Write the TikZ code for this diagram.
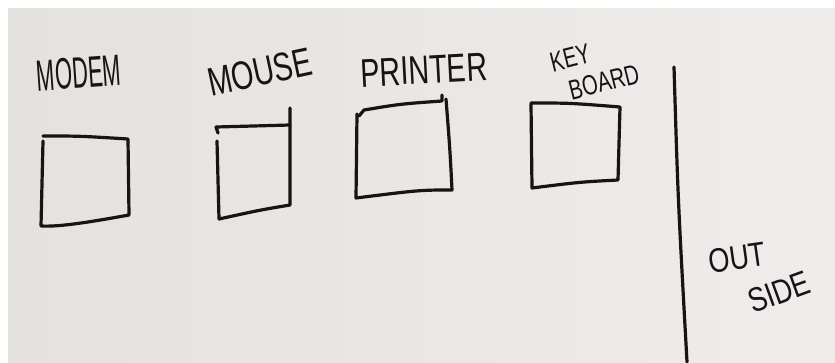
\documentclass[tikz,border=0pt]{standalone}
\usepackage{fontspec}
\setmainfont{Liberation Sans}
\definecolor{paper}{RGB}{228,226,222}
\definecolor{paperlight}{RGB}{238,237,235}
\definecolor{ink}{RGB}{22,20,20}
\tikzset{
  ink/.style={draw=ink, line width=3.2pt, line cap=round, line join=round},
  hand/.style={text=ink, inner sep=0pt, font=\fontsize{40}{42}\selectfont},
}
\begin{document}
\begin{tikzpicture}[x=1pt,y=-1pt]
\useasboundingbox (0,0) rectangle (835,362);
% paper
\fill[white] (0,0) rectangle (835,362);
\shade[left color=paper, right color=paperlight] (8,8) rectangle (835,362);
% labels
\node[hand, rotate=4, font=\fontsize{44}{46}\selectfont] (modem) at (79,73) {\scalebox{0.5}[1]{MODEM}};
\node[hand, rotate=12] (mouse) at (260,72) {\scalebox{0.72}[1]{MOUSE}};
\node[hand, rotate=3] (printer) at (424,70) {\scalebox{0.72}[1]{PRINTER}};
\node[hand, rotate=14, font=\fontsize{28}{30}\selectfont] (key) at (570,58) {\scalebox{0.72}[1]{KEY}};
\node[hand, rotate=14, font=\fontsize{28}{30}\selectfont] (board) at (604,82) {\scalebox{0.72}[1]{BOARD}};
\node[hand, rotate=8, font=\fontsize{34}{36}\selectfont] (out) at (737,258) {\scalebox{0.8}[1]{OUT}};
\node[hand, rotate=20, font=\fontsize{34}{36}\selectfont] (side) at (779,292) {\scalebox{0.8}[1]{SIDE}};
% box 1 (modem)
\path[ink] (43,136) .. controls (80,136) .. (128,139) -- (129,215)
  .. controls (90,222) and (60,227) .. (41,226) -- (43,141);
% box 2 (mouse)
\path[ink] (218,133) -- (216,127) -- (290,125);
\path[ink] (290,108) -- (290,205) .. controls (260,210) .. (219,219) -- (217,141);
% box 3 (printer)
\path[ink] (359,116) -- (364,110) .. controls (400,104) .. (442,101) -- (442,95);
\path[ink] (446,99) .. controls (450,150) .. (452,190) .. controls (420,190) .. (356,198) -- (357,114);
% box 4 (keyboard)
\path[ink] (531,103) .. controls (570,103) .. (620,107) -- (618,180)
  .. controls (580,182) .. (532,188) -- (531,104);
% divider
\coordinate (dtop) at (674,67);
\coordinate (dbot) at (687,362);
\path[ink] (dtop) .. controls (678,200) .. (dbot);
\end{tikzpicture}
\end{document}
